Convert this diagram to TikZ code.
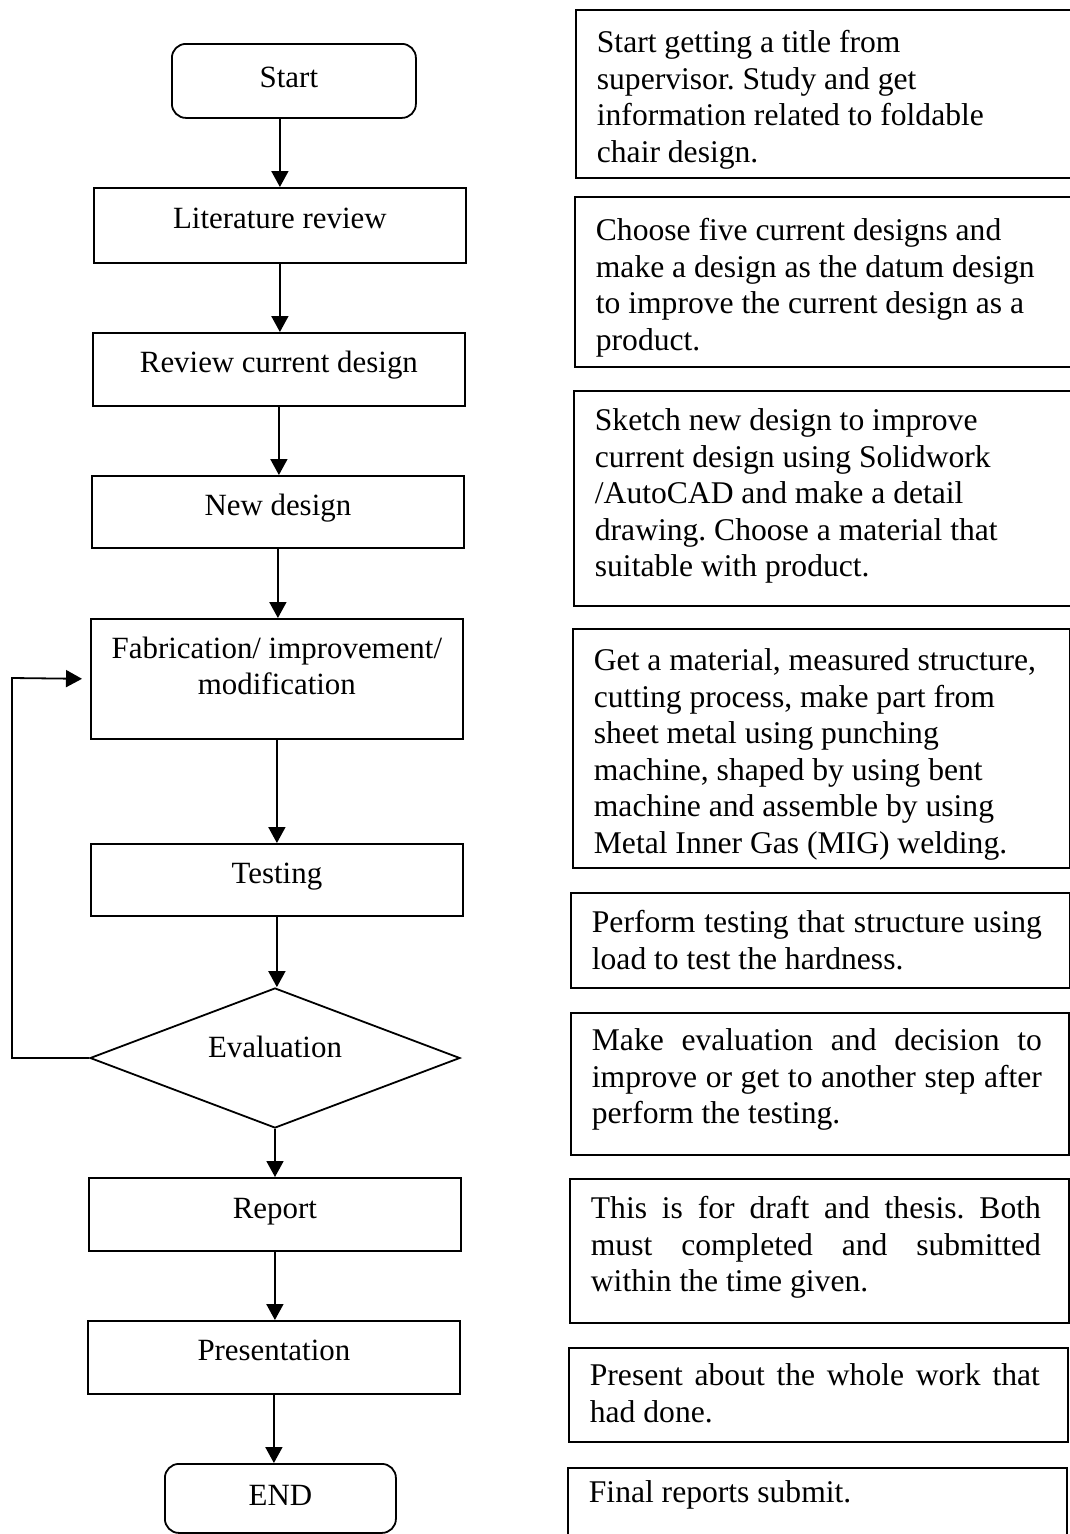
\documentclass[tikz,border=0pt]{standalone}
\usepackage{fontspec}
\setmainfont{Liberation Serif}
\usetikzlibrary{arrows.meta,shapes.geometric}
\frenchspacing

% left box content: width, height, top-to-baseline, text
\newcommand{\lbx}[4]{\parbox[c][#2][t]{#1}{\centering\rule{0pt}{#3}#4}}
% right box content: width, height, top-to-baseline, text
\newcommand{\rbx}[4]{\parbox[c][#2][t]{#1}{\fontsize{31.6}{36.5}\selectfont\raggedright\leftskip=21pt\rule{0pt}{#3}#4}}
\newcommand{\jl}[1]{\makebox[450pt][s]{#1}}

\tikzset{
  shp/.style={draw, line width=1.8pt, inner sep=0pt, font={\fontsize{30.9}{36}\selectfont}},
  pbox/.style={shp, rectangle, anchor=north west},
  term/.style={shp, rectangle, rounded corners=14pt, anchor=north west},
  dec/.style={shp, diamond, minimum width=370pt, minimum height=140pt, aspect=2.64},
  lbl/.style={inner sep=0pt, font={\fontsize{30.9}{36}\selectfont}},
  arr/.style={line width=1.8pt, -{Triangle[width=17pt,length=16pt]}},
}

\begin{document}
\begin{tikzpicture}[x=1pt,y=-1pt]
\useasboundingbox (0,0) rectangle (1070,1534);
\fill[white] (0,0) rectangle (1070,1534);

% left column
\node[term] (start) at (171,43) {\lbx{244pt}{74pt}{44pt}{\hspace*{-10pt}Start}};
\node[pbox] (lit) at (93,187) {\lbx{372pt}{75pt}{41pt}{Literature review}};
\node[pbox] (rev) at (92,332) {\lbx{372pt}{73pt}{40pt}{Review current design}};
\node[pbox] (new) at (91,475) {\lbx{372pt}{72pt}{40pt}{New design}};
\node[pbox] (fab) at (90,618) {\lbx{372pt}{120pt}{40pt}{Fabrication/ improvement/\\ modification}};
\node[pbox] (test) at (90,843) {\lbx{372pt}{72pt}{40pt}{Testing}};
\node[dec] (eval) at (275,1058) {};
\node[lbl, anchor=base] (evaltext) at (275,1057) {Evaluation};
\node[pbox] (rep) at (88,1177) {\lbx{372pt}{73pt}{41pt}{Report}};
\node[pbox] (pres) at (87,1320) {\lbx{372pt}{73pt}{40pt}{Presentation}};
\node[term] (end) at (164,1463) {\lbx{231pt}{69pt}{42pt}{END}};

% connectors
\draw[arr] (lit.north |- start.south) -- (lit.north);
\draw[arr] (lit.south) -- (lit.south |- rev.north);
\draw[arr] (rev.south) -- (rev.south |- new.north);
\draw[arr] (new.south) -- (new.south |- fab.north);
\draw[arr] (fab.south) -- (fab.south |- test.north);
\draw[arr] (test.south) -- (test.south |- eval.north);
\draw[arr] (eval.south) -- (eval.south |- rep.north);
\draw[arr] (rep.south) -- (rep.south |- pres.north);
\draw[arr] (pres.south) -- (pres.south |- end.north);
\coordinate (fbk) at (12,678);
\draw[arr, shorten >=8pt] (eval.west) -| (fbk) -- (fab.west);

% right column
\node[pbox] (d1) at (575,9) {\rbx{500pt}{168pt}{43pt}{%
\mbox{Start getting a title from}\\
\mbox{supervisor. Study and get}\\
\mbox{information related to foldable}\\
\mbox{chair design.}}};
\node[pbox] (d2) at (574,196) {\rbx{501pt}{170pt}{44pt}{%
\mbox{Choose five current designs and}\\
\mbox{make a design as the datum design}\\
\mbox{to improve the current design as a}\\
\mbox{product.}}};
\node[pbox] (d3) at (573,390) {\rbx{502pt}{215pt}{40pt}{%
\mbox{Sketch new design to improve}\\
\mbox{current design using Solidwork}\\
\mbox{/AutoCAD and make a detail}\\
\mbox{drawing. Choose a material that}\\
\mbox{suitable with product.}}};
\node[pbox] (d4) at (572,628) {\rbx{497pt}{239pt}{42pt}{%
\mbox{Get a material, measured structure,}\\
\mbox{cutting process, make part from}\\
\mbox{sheet metal using punching}\\
\mbox{machine, shaped by using bent}\\
\mbox{machine and assemble by using}\\
\mbox{Metal Inner Gas (MIG) welding.}}};
\node[pbox] (d5) at (570,892) {\rbx{499pt}{95pt}{40pt}{%
\jl{Perform testing that structure using}\\
\mbox{load to test the hardness.}}};
\node[pbox] (d6) at (570,1012) {\rbx{498pt}{142pt}{38pt}{%
\jl{Make evaluation and decision to}\\
\jl{improve or get to another step after}\\
\mbox{perform the testing.}}};
\node[pbox] (d7) at (569,1178) {\rbx{499pt}{144pt}{40pt}{%
\jl{This is for draft and thesis. Both}\\
\jl{must completed and submitted}\\
\mbox{within the time given.}}};
\node[pbox] (d8) at (568,1347) {\rbx{499pt}{94pt}{38pt}{%
\jl{Present about the whole work that}\\
\mbox{had done.}}};
\node[pbox] (d9) at (567,1467) {\rbx{499pt}{80pt}{35pt}{%
\mbox{Final reports submit.}}};
\end{tikzpicture}
\end{document}
